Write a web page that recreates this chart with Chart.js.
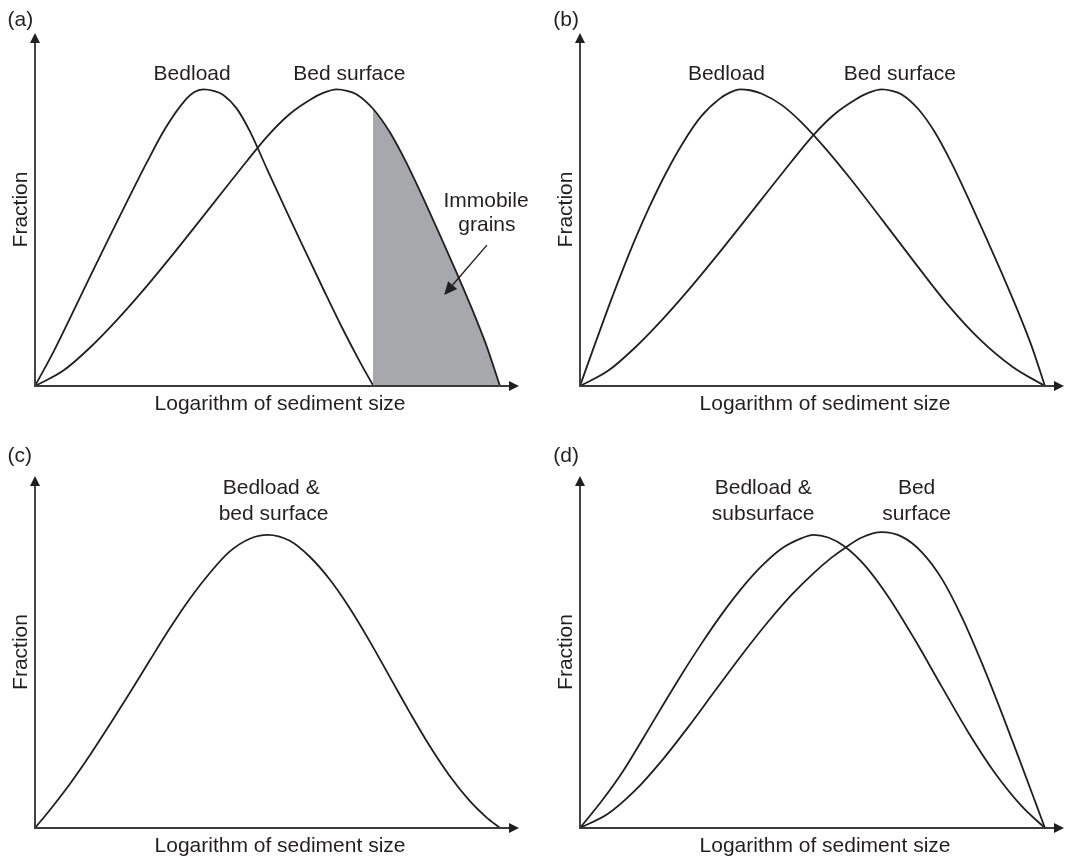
<!DOCTYPE html>
<html>
<head>
<meta charset="utf-8">
<script src="https://cdn.jsdelivr.net/npm/chart.js@4.4.1/dist/chart.umd.min.js"></script>
<style>
  html, body { margin: 0; padding: 0; background: #ffffff; }
  #fig { position: relative; width: 1067px; height: 861px; overflow: hidden; }
  #fig canvas { position: absolute; }
</style>
</head>
<body>
<div id="fig">
  <canvas id="pa" width="533" height="430" style="left:0;top:0"></canvas>
  <canvas id="pb" width="534" height="430" style="left:533px;top:0"></canvas>
  <canvas id="pc" width="533" height="431" style="left:0;top:430px"></canvas>
  <canvas id="pd" width="534" height="431" style="left:533px;top:430px"></canvas>
</div>
<script>
// Grain-size distributions, x = logarithm of sediment size (relative units 0..10),
// y = fraction (relative to the modal fraction).

// (a) bedload much finer than the bed surface; coarse tail of surface is immobile
const aBedloadX = [0, 0.4, 0.8, 1.2, 1.6, 2.0, 2.4, 2.8, 3.2, 3.42, 3.62, 3.84, 4.05, 4.34, 4.62, 5.0, 5.4, 5.8, 6.2, 6.6, 7.0, 7.28];
const aBedloadY = [0, 0.116, 0.244, 0.374, 0.502, 0.628, 0.752, 0.868, 0.958, 0.990, 1.0, 0.995, 0.981, 0.935, 0.859, 0.728, 0.592, 0.459, 0.327, 0.198, 0.078, 0];
const aSurfaceX = [0, 0.61, 1.18, 1.76, 2.33, 2.90, 3.48, 4.05, 4.55, 5.02, 5.48, 5.91, 6.2, 6.49, 6.71, 6.92, 7.28, 7.63, 7.99, 8.35, 8.71, 9.07, 9.43, 9.71, 10];
const aSurfaceY = [0, 0.052, 0.129, 0.222, 0.323, 0.431, 0.545, 0.658, 0.757, 0.846, 0.917, 0.964, 0.988, 1.0, 0.995, 0.983, 0.933, 0.856, 0.752, 0.633, 0.509, 0.381, 0.248, 0.136, 0];

// (b) bedload finer than the surface, but every size is in motion
const bBedloadX = [0, 0.3, 0.6, 0.9, 1.2, 1.5, 1.85, 2.2, 2.6, 3.0, 3.22, 3.44, 3.66, 3.9, 4.35, 4.8, 5.3, 5.8, 6.5, 7.2, 7.9, 8.6, 9.3, 10];
const bBedloadY = [0, 0.132, 0.261, 0.384, 0.5, 0.606, 0.718, 0.816, 0.908, 0.968, 0.989, 1.0, 0.997, 0.986, 0.946, 0.883, 0.797, 0.702, 0.560, 0.416, 0.276, 0.157, 0.065, 0];
const bSurfaceX = [0, 0.61, 1.18, 1.76, 2.33, 2.90, 3.48, 4.05, 4.55, 5.02, 5.48, 5.91, 6.2, 6.49, 6.71, 6.92, 7.28, 7.63, 7.99, 8.35, 8.71, 9.07, 9.43, 9.71, 10];
const bSurfaceY = [0, 0.052, 0.129, 0.222, 0.323, 0.431, 0.545, 0.658, 0.757, 0.846, 0.917, 0.964, 0.988, 1.0, 0.995, 0.983, 0.933, 0.856, 0.752, 0.633, 0.509, 0.381, 0.248, 0.136, 0];

// (c) bedload and bed surface identical
const cSharedX = [0, 0.32, 0.75, 1.18, 1.61, 2.04, 2.47, 2.90, 3.33, 3.76, 4.19, 4.62, 5.00, 5.48, 5.91, 6.34, 6.77, 7.20, 7.63, 8.06, 8.49, 8.92, 9.35, 9.71, 10];
const cSharedY = [0, 0.061, 0.149, 0.246, 0.350, 0.457, 0.567, 0.675, 0.775, 0.862, 0.935, 0.978, 0.991, 0.971, 0.917, 0.840, 0.743, 0.631, 0.511, 0.391, 0.277, 0.176, 0.092, 0.036, 0];

// (d) bedload matches the subsurface; the surface is coarser (armoured)
const dSubsurfaceX = [0, 0.47, 0.90, 1.33, 1.76, 2.19, 2.62, 3.05, 3.48, 3.91, 4.34, 4.77, 5.02, 5.34, 5.70, 6.13, 6.63, 7.20, 7.78, 8.35, 8.92, 9.50, 10];
const dSubsurfaceY = [0, 0.092, 0.186, 0.296, 0.409, 0.520, 0.625, 0.723, 0.811, 0.886, 0.945, 0.980, 0.991, 0.982, 0.951, 0.887, 0.782, 0.637, 0.478, 0.324, 0.187, 0.074, 0];
const dSurfaceX = [0, 0.61, 1.18, 1.76, 2.33, 2.90, 3.48, 4.05, 4.55, 5.02, 5.41, 5.70, 6.06, 6.49, 6.92, 7.35, 7.78, 8.21, 8.64, 9.07, 9.50, 9.79, 10];
const dSurfaceY = [0, 0.049, 0.126, 0.228, 0.342, 0.463, 0.585, 0.698, 0.788, 0.861, 0.914, 0.947, 0.982, 1.0, 0.985, 0.933, 0.843, 0.714, 0.559, 0.389, 0.211, 0.089, 0];

// Text
const panelTags = ['(a)', '(b)', '(c)', '(d)'];
const axisTitleX = 'Logarithm of sediment size';
const axisTitleY = 'Fraction';
const aNotes = ['Bedload', 'Bed surface', 'Immobile', 'grains'];
const bNotes = ['Bedload', 'Bed surface'];
const cNotes = ['Bedload &', 'bed surface'];
const dNotes = ['Bedload &', 'subsurface', 'Bed', 'surface'];

// Coarse sizes on the bed surface left behind: everything beyond the coarsest bedload size
const immobileFrom = aBedloadX[aBedloadX.length - 1];

const INK = '#231f20';
const AXIS_INK = '#3b3b3b';
const SHADE = '#a7a8ab';
const FONT = '21px "Liberation Sans", Arial, Helvetica, sans-serif';
const X_MAX = 10.41;
const Y_MAX = 1.19;

function pts(xs, ys) {
  return xs.map((x, i) => ({ x: x, y: ys[i] }));
}

function curve(xs, ys, extra) {
  return Object.assign({
    data: pts(xs, ys),
    borderColor: INK,
    borderWidth: 1.8,
    pointRadius: 0,
    fill: false,
    cubicInterpolationMode: 'monotone'
  }, extra || {});
}

function arrowLine(ctx, x1, y1, x2, y2, len, half) {
  const ang = Math.atan2(y2 - y1, x2 - x1);
  const bx = x2 - len * Math.cos(ang);
  const by = y2 - len * Math.sin(ang);
  ctx.beginPath();
  ctx.moveTo(x1, y1);
  ctx.lineTo(bx, by);
  ctx.stroke();
  ctx.beginPath();
  ctx.moveTo(x2, y2);
  ctx.lineTo(bx + half * Math.sin(ang), by - half * Math.cos(ang));
  ctx.lineTo(bx - half * Math.sin(ang), by + half * Math.cos(ang));
  ctx.closePath();
  ctx.fill();
}

// Axes with arrowheads, panel tag, axis titles and in-plot notes
const sketchPlugin = {
  id: 'sketch',
  afterDatasetsDraw(chart, args, opts) {
    const ctx = chart.ctx;
    const a = chart.chartArea;
    const xs = chart.scales.x, ys = chart.scales.y;
    const ox = xs.getPixelForValue(0), oy = ys.getPixelForValue(0);
    const xt = xs.getPixelForValue(X_MAX), yt = ys.getPixelForValue(Y_MAX);
    const head = 10, half = 5;

    ctx.save();
    // axis lines
    ctx.strokeStyle = AXIS_INK;
    ctx.lineWidth = 1.9;
    ctx.lineJoin = 'miter';
    ctx.beginPath();
    ctx.moveTo(ox, yt + head);
    ctx.lineTo(ox, oy);
    ctx.lineTo(xt - head, oy);
    ctx.stroke();
    // arrowheads
    ctx.fillStyle = INK;
    ctx.beginPath();
    ctx.moveTo(ox, yt);
    ctx.lineTo(ox - half, yt + head);
    ctx.lineTo(ox + half, yt + head);
    ctx.closePath();
    ctx.fill();
    ctx.beginPath();
    ctx.moveTo(xt, oy);
    ctx.lineTo(xt - head, oy - half);
    ctx.lineTo(xt - head, oy + half);
    ctx.closePath();
    ctx.fill();

    ctx.font = FONT;
    ctx.fillStyle = INK;
    ctx.textBaseline = 'alphabetic';

    // panel tag
    ctx.textAlign = 'left';
    ctx.fillText(opts.tag, a.left + opts.tagDx, a.top + opts.tagDy);

    // x-axis title
    ctx.textAlign = 'center';
    ctx.fillText(axisTitleX, (a.left + a.right) / 2 + 3, a.bottom + 24);

    // y-axis title
    ctx.save();
    ctx.translate(a.left - 8.5, (a.top + a.bottom) / 2);
    ctx.rotate(-Math.PI / 2);
    ctx.fillText(axisTitleY, 0, 0);
    ctx.restore();

    // notes anchored in data units
    (opts.notes || []).forEach(n => {
      ctx.fillText(n.text, xs.getPixelForValue(n.x), ys.getPixelForValue(n.y));
    });

    // pointer arrows
    (opts.pointers || []).forEach(p => {
      ctx.strokeStyle = INK;
      ctx.lineWidth = 1.4;
      arrowLine(ctx,
        xs.getPixelForValue(p.x1), ys.getPixelForValue(p.y1),
        xs.getPixelForValue(p.x2), ys.getPixelForValue(p.y2), 13, 6);
    });
    ctx.restore();
  }
};

function immobileShade(context) {
  const chart = context.chart;
  const a = chart.chartArea;
  if (!a || !chart.scales.x) return 'rgba(0,0,0,0)';
  const px = chart.scales.x.getPixelForValue(immobileFrom);
  const t = Math.min(1, Math.max(0, (px - a.left) / (a.right - a.left)));
  const g = chart.ctx.createLinearGradient(a.left, 0, a.right, 0);
  g.addColorStop(0, 'rgba(167,168,171,0)');
  g.addColorStop(t, 'rgba(167,168,171,0)');
  g.addColorStop(t, SHADE);
  g.addColorStop(1, SHADE);
  return g;
}

function makePanel(id, pad, tagOpts, datasets, notes, pointers) {
  return new Chart(document.getElementById(id), {
    type: 'line',
    data: { datasets: datasets },
    options: {
      responsive: false,
      animation: false,
      devicePixelRatio: 1,
      events: [],
      layout: { padding: pad },
      plugins: {
        legend: { display: false },
        tooltip: { enabled: false },
        sketch: Object.assign({ notes: notes, pointers: pointers || [] }, tagOpts)
      },
      scales: {
        x: { type: 'linear', min: 0, max: X_MAX, display: false },
        y: { type: 'linear', min: 0, max: Y_MAX, display: false }
      }
    },
    plugins: [sketchPlugin]
  });
}

makePanel('pa', { left: 35, top: 33, right: 14, bottom: 44 },
  { tag: panelTags[0], tagDx: -27.4, tagDy: -7.5 },
  [
    curve(aSurfaceX, aSurfaceY, { fill: 'origin', backgroundColor: immobileShade }),
    curve(aBedloadX, aBedloadY)
  ],
  [
    { text: aNotes[0], x: 3.38, y: 1.033 },
    { text: aNotes[1], x: 6.76, y: 1.033 },
    { text: aNotes[2], x: 9.70, y: 0.605 },
    { text: aNotes[3], x: 9.72, y: 0.524 }
  ],
  [{ x1: 9.72, y1: 0.475, x2: 8.80, y2: 0.307 }]
);

makePanel('pb', { left: 47, top: 33, right: 3, bottom: 44 },
  { tag: panelTags[1], tagDx: -26.7, tagDy: -7.5 },
  [curve(bBedloadX, bBedloadY), curve(bSurfaceX, bSurfaceY)],
  [
    { text: bNotes[0], x: 3.15, y: 1.033 },
    { text: bNotes[1], x: 6.88, y: 1.033 }
  ]
);

makePanel('pc', { left: 35, top: 46, right: 14, bottom: 33 },
  { tag: panelTags[2], tagDx: -27.4, tagDy: -14 },
  [curve(cSharedX, cSharedY)],
  [
    { text: cNotes[0], x: 5.08, y: 1.13 },
    { text: cNotes[1], x: 5.13, y: 1.042 }
  ]
);

makePanel('pd', { left: 47, top: 46, right: 3, bottom: 33 },
  { tag: panelTags[3], tagDx: -26.7, tagDy: -14 },
  [curve(dSubsurfaceX, dSubsurfaceY), curve(dSurfaceX, dSurfaceY)],
  [
    { text: dNotes[0], x: 3.94, y: 1.13 },
    { text: dNotes[1], x: 3.94, y: 1.042 },
    { text: dNotes[2], x: 7.24, y: 1.13 },
    { text: dNotes[3], x: 7.24, y: 1.042 }
  ]
);
</script>
</body>
</html>
